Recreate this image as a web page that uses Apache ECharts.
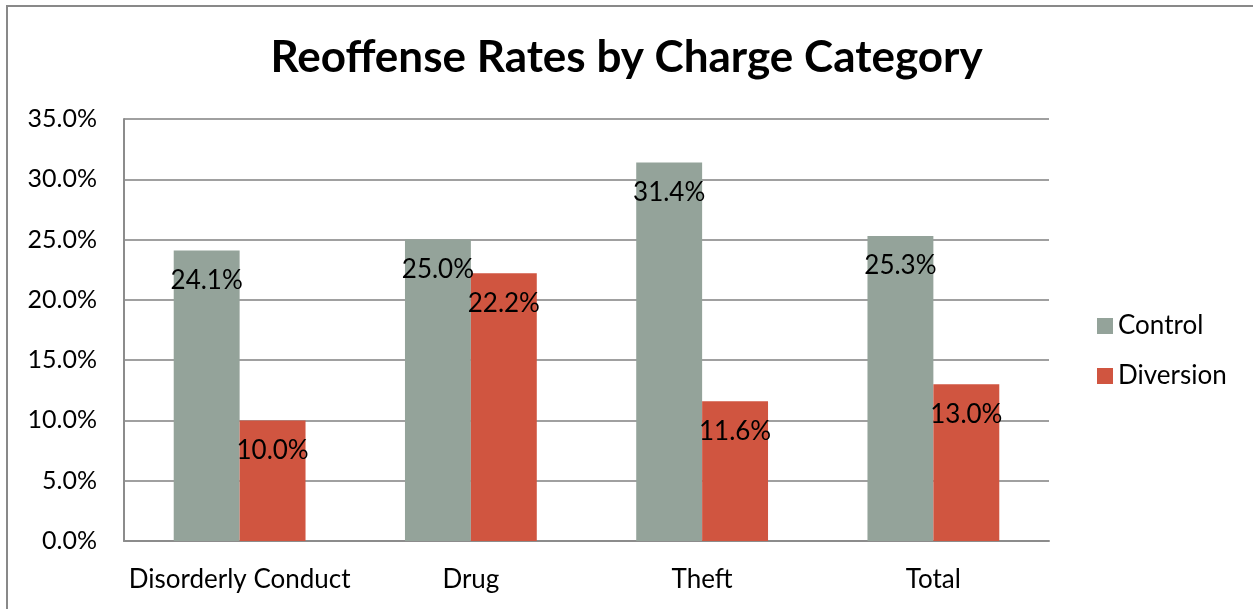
<!DOCTYPE html>
<html>
<head>
<meta charset="utf-8">
<script src="https://cdn.jsdelivr.net/npm/echarts@6/dist/echarts.min.js"></script>
<style>
html,body{margin:0;padding:0;background:#fff;}
#chart{width:1253px;height:609px;}
</style>
</head>
<body>
<div id="chart"></div>
<script>
const categories = ['Disorderly Conduct', 'Drug', 'Theft', 'Total'];
const controlValues = [24.1, 25.0, 31.4, 25.3];
const diversionValues = [10.0, 22.2, 11.6, 13.0];
const seriesNames = ['Control', 'Diversion'];
const titleText = 'Reoffense Rates by Charge Category';

const FONT = 'Lato';
const chart = echarts.init(document.getElementById('chart'));
const labelOpt = {
  show: true,
  position: 'insideTop',
  distance: 17,
  color: '#000',
  fontFamily: FONT,
  fontSize: 26,
  formatter: p => p.value.toFixed(1) + '%'
};
chart.setOption({
  animation: false,
  backgroundColor: '#fff',
  title: {
    text: titleText,
    left: 'center',
    top: 31,
    textStyle: { fontFamily: FONT, fontWeight: 'bold', fontSize: 44, color: '#000' }
  },
  graphic: [
    { type: 'line', shape: { x1: 7, y1: 5, x2: 7, y2: 609 }, style: { stroke: '#898989', lineWidth: 2 } },
    { type: 'line', shape: { x1: 6, y1: 6, x2: 1253, y2: 6 }, style: { stroke: '#898989', lineWidth: 2 } }
  ],
  legend: {
    orient: 'vertical',
    left: 1092,
    top: 308,
    itemWidth: 16,
    itemHeight: 16,
    itemGap: 24,
    icon: 'rect',
    textStyle: { fontFamily: FONT, fontSize: 26, color: '#000', lineHeight: 24 },
    data: seriesNames
  },
  grid: { left: 124, right: 204, top: 119, bottom: 68 },
  xAxis: {
    type: 'category',
    data: categories,
    axisLine: { lineStyle: { color: '#8c8c8c', width: 2 } },
    axisTick: { show: false },
    axisLabel: { fontFamily: FONT, fontSize: 26, color: '#000', margin: 26, interval: 0 }
  },
  yAxis: {
    type: 'value',
    min: 0,
    max: 35,
    interval: 5,
    axisLine: { show: true, lineStyle: { color: '#8c8c8c', width: 2 } },
    axisTick: { show: false },
    splitLine: { lineStyle: { color: '#a0a0a0', width: 2 } },
    axisLabel: { fontFamily: FONT, fontSize: 25, color: '#000', margin: 27, formatter: v => v.toFixed(1) + '%' }
  },
  series: [
    { name: seriesNames[0], type: 'bar', data: controlValues, barGap: '0%', barCategoryGap: '43%',
      itemStyle: { color: '#94a39a' }, label: labelOpt },
    { name: seriesNames[1], type: 'bar', data: diversionValues,
      itemStyle: { color: '#d05540' }, label: labelOpt }
  ]
});
</script>
</body>
</html>
